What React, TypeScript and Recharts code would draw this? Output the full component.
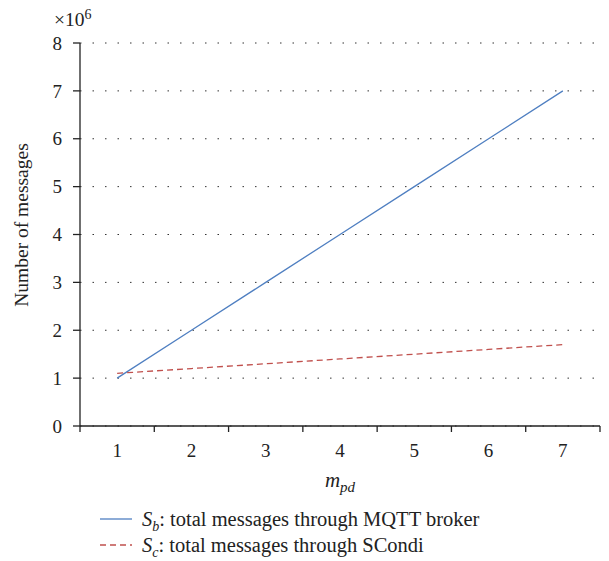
import React from 'react';
import { LineChart, Line, XAxis, YAxis, CartesianGrid } from 'recharts';

// m_pd values
const mpd = [1, 2, 3, 4, 5, 6, 7];
// number of messages (x 10^6)
const brokerMsgs = [1.0, 2.0, 3.0, 4.0, 5.0, 6.0, 7.0];
const scondiMsgs = [1.1, 1.2, 1.3, 1.4, 1.5, 1.6, 1.7];
const yTicks = [0, 1, 2, 3, 4, 5, 6, 7, 8];
const xTicks = [0.5, 1.5, 2.5, 3.5, 4.5, 5.5, 6.5, 7.5];

const data = mpd.map((m, i) => ({ m, sb: brokerMsgs[i] * 1e6, sc: scondiMsgs[i] * 1e6 }));

const W = 609;
const H = 561;
const margin = { top: 43, right: 9, left: 0, bottom: 100 };
const Y_AXIS_W = 80;
const HALF_STEP = (W - margin.left - margin.right - Y_AXIS_W) / 7 / 2;

const FONT = '"Liberation Serif", "DejaVu Serif", serif';
const BLUE = '#4f7fc1';
const RED = '#c0504d';

const XTick = ({ x, y, payload }: any) => {
  const v = payload.value + 0.5;
  if (v > 7) return <g />;
  return (
    <text x={x + HALF_STEP} y={y} dy={19} textAnchor="middle" fontSize={19} fontFamily={FONT} fill="#222">
      {v}
    </text>
  );
};

const App: React.FC = () => {
  return (
    <div style={{ position: 'absolute', left: 0, top: 0, width: W, height: H, fontFamily: FONT, color: '#222' }}>
      <LineChart width={W} height={H} data={data} margin={margin}>
        <CartesianGrid vertical={false} stroke="#333" strokeDasharray="1.5 11" />
        <XAxis
          dataKey="m"
          type="number"
          domain={[0.5, 7.5]}
          ticks={xTicks}
          tick={<XTick />}
          tickSize={6}
          tickMargin={6}
          height={35}
          stroke="#222"
          axisLine={{ stroke: '#222', strokeWidth: 1.3 }}
          tickLine={{ stroke: '#222', strokeWidth: 1.3 }}
        />
        <YAxis
          type="number"
          domain={[0, 8e6]}
          ticks={yTicks.map((t) => t * 1e6)}
          tickFormatter={(v: number) => String(v / 1e6)}
          width={Y_AXIS_W}
          tickSize={7}
          tickMargin={11}
          tick={{ fontSize: 19, fontFamily: FONT, fill: '#222' }}
          axisLine={{ stroke: '#222', strokeWidth: 1.3 }}
          tickLine={{ stroke: '#222', strokeWidth: 1.3 }}
        />
        <Line
          type="linear"
          dataKey="sb"
          stroke={BLUE}
          strokeWidth={1.3}
          dot={false}
          isAnimationActive={false}
        />
        <Line
          type="linear"
          dataKey="sc"
          stroke={RED}
          strokeWidth={1.3}
          strokeDasharray="6 4"
          dot={false}
          isAnimationActive={false}
        />
      </LineChart>

      <div style={{ position: 'absolute', left: 54, top: 2, fontSize: 19.5, lineHeight: '26px' }}>
        ×10<sup style={{ fontSize: 14, verticalAlign: '7px' }}>6</sup>
      </div>

      <div
        style={{
          position: 'absolute',
          left: 22,
          top: 225,
          transform: 'translate(-50%, -50%) rotate(-90deg)',
          whiteSpace: 'nowrap',
          fontSize: 19.5,
        }}
      >
        Number of messages
      </div>

      <div style={{ position: 'absolute', left: 340, top: 468, transform: 'translateX(-50%)', fontSize: 21, fontStyle: 'italic' }}>
        m<sub style={{ fontSize: 15 }}>pd</sub>
      </div>

      <div style={{ position: 'absolute', left: 100, top: 506, fontSize: 20.5, lineHeight: '26px' }}>
        <div style={{ display: 'flex', alignItems: 'center', height: 26 }}>
          <svg width={34} height={10} style={{ marginRight: 8 }}>
            <line x1={0} y1={5} x2={32} y2={5} stroke={BLUE} strokeWidth={1.3} />
          </svg>
          <span>
            <i>S</i>
            <sub style={{ fontSize: 14, fontStyle: 'italic', lineHeight: 0 }}>b</sub>: total messages through MQTT broker
          </span>
        </div>
        <div style={{ display: 'flex', alignItems: 'center', height: 26 }}>
          <svg width={34} height={10} style={{ marginRight: 8 }}>
            <line x1={0} y1={5} x2={32} y2={5} stroke={RED} strokeWidth={1.3} strokeDasharray="6 4" />
          </svg>
          <span>
            <i>S</i>
            <sub style={{ fontSize: 14, fontStyle: 'italic', lineHeight: 0 }}>c</sub>: total messages through SCondi
          </span>
        </div>
      </div>
    </div>
  );
};

export default App;
